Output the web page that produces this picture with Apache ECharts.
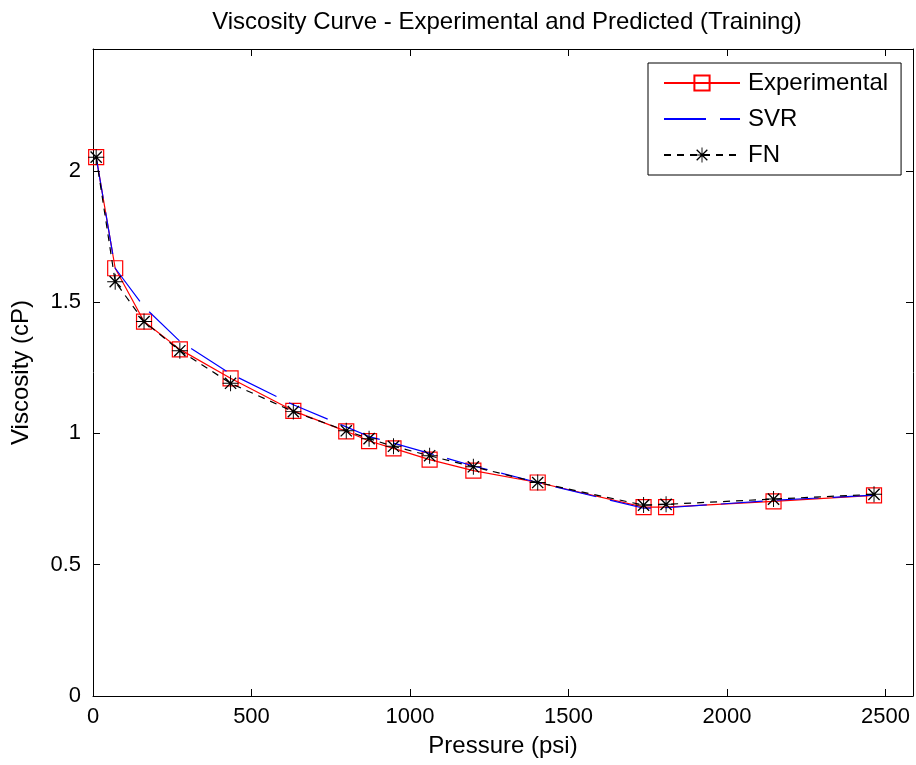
<!DOCTYPE html>
<html>
<head>
<meta charset="utf-8">
<script src="https://cdn.jsdelivr.net/npm/echarts@6/dist/echarts.min.js"></script>
<style>
  html, body { margin: 0; padding: 0; background: #fff; }
  #chart { width: 916px; height: 765px; }
</style>
</head>
<body>
<div id="chart"></div>
<script>
// pressure (psi) at each sample
const pressure = [10, 70, 161, 274, 434, 632, 799, 871, 948, 1062, 1200, 1403, 1737, 1808, 2147, 2464];
// viscosity (cP)
const experimental = [2.052, 1.629, 1.426, 1.320, 1.210, 1.086, 1.008, 0.971, 0.943, 0.900, 0.858, 0.813, 0.719, 0.719, 0.741, 0.764];
const svr = [2.052, 1.629, 1.482, 1.351, 1.227, 1.109, 1.025, 0.988, 0.963, 0.924, 0.876, 0.813, 0.715, 0.717, 0.745, 0.765];
const fn = [2.052, 1.578, 1.426, 1.315, 1.191, 1.083, 1.010, 0.980, 0.951, 0.915, 0.873, 0.813, 0.727, 0.730, 0.750, 0.768];

const xMax = 2587;
const yMax = 2.464;

const font = "Liberation Sans, Arial, sans-serif";

// asterisk marker (horizontal, vertical and two diagonal arms)
const asterisk =
  "path://M0,9.4 L20,9.4 L20,10.6 L0,10.6 Z " +
  "M9.4,0 L10.6,0 L10.6,20 L9.4,20 Z " +
  "M2.4,3.6 L3.6,2.4 L17.6,16.4 L16.4,17.6 Z " +
  "M16.4,2.4 L17.6,3.6 L3.6,17.6 L2.4,16.4 Z";

const pairs = (ys) => pressure.map((x, i) => [x, ys[i]]);

const chart = echarts.init(document.getElementById("chart"), null, { renderer: "canvas" });

const baseAxis = {
  axisLine: { show: true, onZero: false, lineStyle: { color: "#000", width: 1 } },
  axisTick: { show: true, inside: true, length: 7, lineStyle: { color: "#000" } },
  splitLine: { show: false },
};

const option = {
  backgroundColor: "#fff",
  animation: false,
  title: {
    text: "Viscosity Curve - Experimental and Predicted (Training)",
    left: 502,
    textAlign: "center",
    top: 5,
    textStyle: { fontFamily: font, fontSize: 24, fontWeight: "normal", color: "#000" },
  },
  grid: { left: 93, top: 49, right: 3, bottom: 69, containLabel: false },
  legend: {
    orient: "vertical",
    left: 648,
    top: 63,
    padding: [8, 13, 8, 15],
    itemWidth: 76,
    itemHeight: 19,
    itemGap: 12,
    borderColor: "#000",
    borderWidth: 1,
    backgroundColor: "#fff",
    textStyle: { fontFamily: font, fontSize: 24, color: "#000", padding: [0, 0, 0, 3] },
    data: [
      { name: "Experimental" },
      { name: "SVR", itemStyle: { opacity: 0 } },
      { name: "FN" },
    ],
  },
  xAxis: [
    Object.assign({}, baseAxis, {
      type: "value",
      min: 0,
      max: xMax,
      interval: 500,
      name: "Pressure (psi)",
      nameLocation: "middle",
      nameGap: 38,
      nameTextStyle: { fontFamily: font, fontSize: 24, color: "#000" },
      axisLabel: {
        fontFamily: font, fontSize: 22, color: "#000", margin: 10,
        showMaxLabel: false,
        formatter: (v) => String(v),
      },
    }),
    Object.assign({}, baseAxis, {
      type: "value", position: "top", min: 0, max: xMax, interval: 500,
      axisLabel: { show: false },
    }),
  ],
  yAxis: [
    Object.assign({}, baseAxis, {
      type: "value",
      min: 0,
      max: yMax,
      interval: 0.5,
      name: "Viscosity (cP)",
      nameLocation: "middle",
      nameGap: 60,
      nameTextStyle: { fontFamily: font, fontSize: 24, color: "#000" },
      axisLabel: {
        fontFamily: font, fontSize: 22, color: "#000", margin: 12,
        showMaxLabel: false,
        formatter: (v) => String(v),
      },
    }),
    Object.assign({}, baseAxis, {
      type: "value", position: "right", min: 0, max: yMax, interval: 0.5,
      axisLabel: { show: false },
    }),
  ],
  series: [
    {
      name: "Experimental",
      type: "line",
      data: pairs(experimental),
      symbol: "rect",
      symbolSize: 15,
      itemStyle: { color: "rgba(255,255,255,0)", borderColor: "#ff0000", borderWidth: 1.2 },
      lineStyle: { color: "#ff0000", width: 1.2 },
      z: 2,
    },
    {
      name: "SVR",
      type: "line",
      data: pairs(svr),
      symbol: "none",
      itemStyle: { color: "#0000ff" },
      lineStyle: { color: "#0000ff", width: 1.2, type: [42, 14] },
      z: 3,
    },
    {
      name: "FN",
      type: "line",
      data: pairs(fn),
      symbol: asterisk,
      symbolSize: 16,
      itemStyle: { color: "#000" },
      lineStyle: { color: "#000", width: 1.2, type: [7, 6] },
      z: 4,
    },
  ],
};

chart.setOption(option);
</script>
</body>
</html>
